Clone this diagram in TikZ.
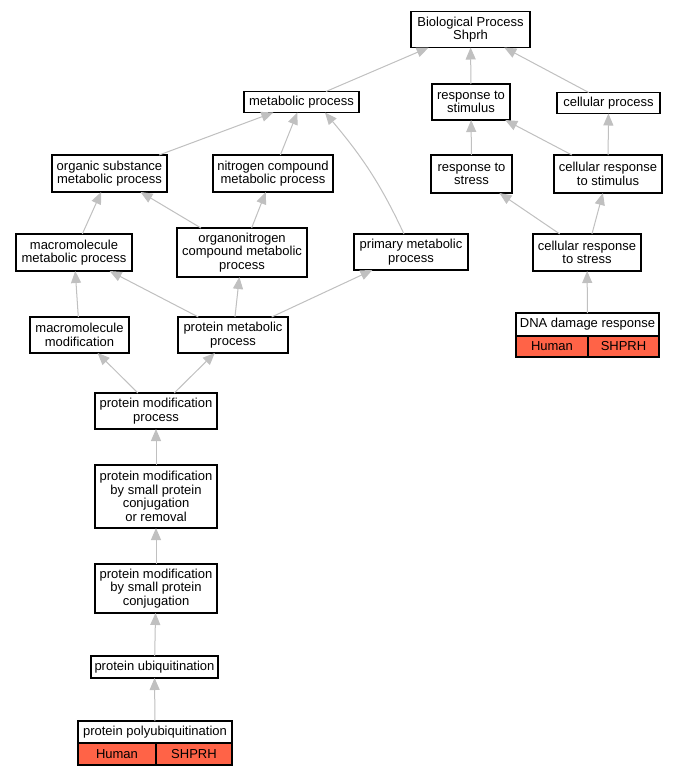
\documentclass[tikz,border=0pt]{standalone}
\usepackage{xcolor}
\usepackage{fontspec}
\setmainfont{Liberation Sans}
\usepackage{tikz}
\usetikzlibrary{arrows.meta}
\usetikzlibrary{shapes,positioning}

\definecolor{edgegray}{RGB}{192,192,192}
\definecolor{genered}{RGB}{255,99,71}

\tikzset{
    gobox/.style={
        draw=black,
        line width=1.3pt,
        fill=white,
        inner sep=0pt,
        outer sep=0pt,
        align=center,
        font=\fontsize{13}{13.5}\selectfont,
    },
    generow/.style={
        gobox,
        fill=genered,
        anchor=north west,
    },
    isa/.style={
        draw=edgegray,
        line width=1pt,
        -{Triangle[length=12pt,width=10pt,fill=edgegray]},
    },
}

\begin{document}
\begin{tikzpicture}[x=1pt,y=1pt]
        \useasboundingbox[fill=white] (0,0) rectangle (679,-776);

        % top of the tree
        \node[gobox, minimum width=119, minimum height=36] (bp) at (470.5,-29.5) {Biological Process\\Shprh};

        % second row
        \node[gobox, minimum width=115, minimum height=21] (metab) at (301.5,-102) {metabolic process};
        \node[gobox, minimum width=78, minimum height=36] (respstim) at (471,-102) {response to\\stimulus};
        \node[gobox, minimum width=103, minimum height=21] (cellproc) at (608.5,-103) {cellular process};

        % third row
        \node[gobox, minimum width=115, minimum height=37] (orgsub) at (109.5,-173.5) {organic substance\\metabolic process};
        \node[gobox, minimum width=120, minimum height=37] (nitro) at (273,-173.5) {nitrogen compound\\metabolic process};
        \node[gobox, minimum width=81, minimum height=38] (respstress) at (471.5,-174) {response to\\stress};
        \node[gobox, minimum width=108, minimum height=38] (cellrespstim) at (608,-174) {cellular response\\to stimulus};

        % fourth row
        \node[gobox, minimum width=116, minimum height=37] (macrometab) at (74,-252.5) {macromolecule\\metabolic process};
        \node[gobox, minimum width=130, minimum height=49] (organonit) at (242,-252.5) {organonitrogen\\compound metabolic\\process};
        \node[gobox, minimum width=114, minimum height=36] (primary) at (411,-252) {primary metabolic\\process};
        \node[gobox, minimum width=108, minimum height=37] (cellrespstress) at (587,-252.5) {cellular response\\to stress};

        % fifth row
        \node[gobox, minimum width=99, minimum height=36] (macromod) at (79.5,-335) {macromolecule\\modification};
        \node[gobox, minimum width=110, minimum height=36] (protmetab) at (233,-335) {protein metabolic\\process};

        % annotated term, right
        \node[gobox, minimum width=143, minimum height=23] (dna) at (587.5,-324.5) {DNA damage response};
        \node[generow, minimum width=72, minimum height=21] (dnahuman) at (dna.south west) {Human};
        \node[generow, minimum width=71, minimum height=21] (dnashprh) at (dnahuman.north east) {SHPRH};

        % chain down to the leaf
        \node[gobox, minimum width=122, minimum height=36] (protmod) at (156,-411) {protein modification\\process};
        \node[gobox, minimum width=122, minimum height=63] (smallrem) at (156,-496.5) {protein modification\\by small protein\\conjugation\\or removal};
        \node[gobox, minimum width=122, minimum height=49] (smallconj) at (156,-588.5) {protein modification\\by small protein\\conjugation};
        \node[gobox, minimum width=127, minimum height=22] (ubiq) at (154.5,-667) {protein ubiquitination};

        % annotated term, bottom
        \node[gobox, minimum width=154, minimum height=22] (poly) at (155,-732) {protein polyubiquitination};
        \node[generow, minimum width=78, minimum height=22] (polyhuman) at (poly.south west) {Human};
        \node[generow, minimum width=76, minimum height=22] (polyshprh) at (polyhuman.north east) {SHPRH};

        % is-a edges
        \draw[isa] (metab) -- (bp);
        \draw[isa] (respstim) -- (bp);
        \draw[isa] (cellproc) -- (bp);
        \draw[isa] (orgsub) -- (metab);
        \draw[isa] (nitro) -- (metab);
        \draw[isa] ([xshift=-7pt]primary.north) to[out=115,in=-50] ([xshift=23.5pt]metab.south);
        \draw[isa] (respstress) -- (respstim);
        \draw[isa] (cellrespstim) -- (respstim);
        \draw[isa] (cellrespstim) -- (cellproc);
        \draw[isa] (macrometab) -- (orgsub);
        \draw[isa] (organonit) -- (orgsub);
        \draw[isa] (organonit) -- (nitro);
        \draw[isa] (cellrespstress) -- (respstress);
        \draw[isa] (cellrespstress) -- (cellrespstim);
        \draw[isa] (macromod) -- (macrometab);
        \draw[isa] (protmetab) -- (macrometab);
        \draw[isa] (protmetab) -- (organonit);
        \draw[isa] (protmetab) -- (primary);
        \draw[isa] (dna) -- (cellrespstress);
        \draw[isa] (protmod) -- (macromod);
        \draw[isa] (protmod) -- (protmetab);
        \draw[isa] (smallrem) -- (protmod);
        \draw[isa] (smallconj) -- (smallrem);
        \draw[isa] (ubiq) -- (smallconj);
        \draw[isa] (poly) -- (ubiq);
    \end{tikzpicture}
\end{document}
